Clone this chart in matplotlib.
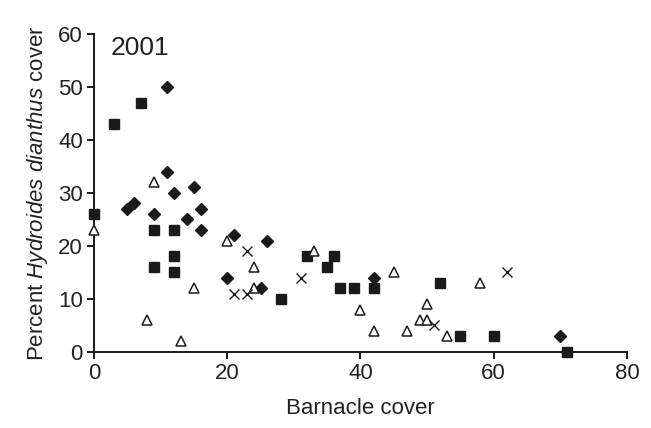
import matplotlib.pyplot as plt

plt.rcParams['font.family'] = ['Liberation Sans', 'DejaVu Sans']
plt.rcParams['mathtext.fontset'] = 'custom'
plt.rcParams['mathtext.rm'] = 'Liberation Sans'
plt.rcParams['mathtext.it'] = 'Liberation Sans:italic'

# filled squares
sq_x = [0, 3, 7, 9, 12, 12, 9, 12, 28, 32, 36, 35, 37, 39, 42, 52, 55, 60, 71]
sq_y = [26, 43, 47, 23, 23, 18, 16, 15, 10, 18, 18, 16, 12, 12, 12, 13, 3, 3, 0]

# filled diamonds
di_x = [11, 11, 12, 15, 5, 6, 16, 9, 14, 16, 21, 26, 20, 25, 42, 70]
di_y = [50, 34, 30, 31, 27, 28, 27, 26, 25, 23, 22, 21, 14, 12, 14, 3]

# open triangles
tr_x = [0, 9, 15, 8, 13, 20, 24, 24, 33, 45, 58, 40, 50, 49, 50, 42, 47, 53]
tr_y = [23, 32, 12, 6, 2, 21, 16, 12, 19, 15, 13, 8, 9, 6, 6, 4, 4, 3]

# crosses
cr_x = [23, 31, 21, 23, 51, 62]
cr_y = [19, 14, 11, 11, 5, 15]

fig = plt.figure(figsize=(6.51, 4.28), dpi=100)
ax = fig.add_axes([0.1444, 0.1776, 0.8186, 0.7441])

ax.plot(sq_x, sq_y, 's', color='#1a1a1a', markersize=7, clip_on=False, zorder=3)
ax.plot(di_x, di_y, 'D', color='#1a1a1a', markersize=5.8, clip_on=False, zorder=3)
ax.plot(tr_x, tr_y, '^', markerfacecolor='white', markeredgecolor='#1a1a1a',
        markeredgewidth=1.1, markersize=7, clip_on=False, zorder=4)
ax.plot(cr_x, cr_y, 'x', color='#1a1a1a', markeredgewidth=1.0, markersize=7,
        clip_on=False, zorder=4)

ax.set_xlim(0, 80)
ax.set_ylim(0, 60)
ax.set_xticks(range(0, 81, 20))
ax.set_yticks(range(0, 61, 10))

for side in ['top', 'right']:
    ax.spines[side].set_visible(False)
for side in ['left', 'bottom']:
    ax.spines[side].set_linewidth(1.4)
    ax.spines[side].set_color('#1a1a1a')

ax.tick_params(direction='out', length=5, width=1.4, colors='#1a1a1a',
               labelsize=16, labelcolor='#222222')
ax.tick_params(axis='x', pad=3)
ax.tick_params(axis='y', pad=3)

ax.set_xlabel('Barnacle cover', fontsize=16, color='#222222', labelpad=10)
ax.set_ylabel(r'Percent $\mathit{Hydroides\ dianthus}$ cover', fontsize=16,
              color='#222222', labelpad=6)

ax.text(2.5, 57.2, '2001', fontsize=19, color='#222222', va='center')

fig.savefig('out.png', dpi=100)
